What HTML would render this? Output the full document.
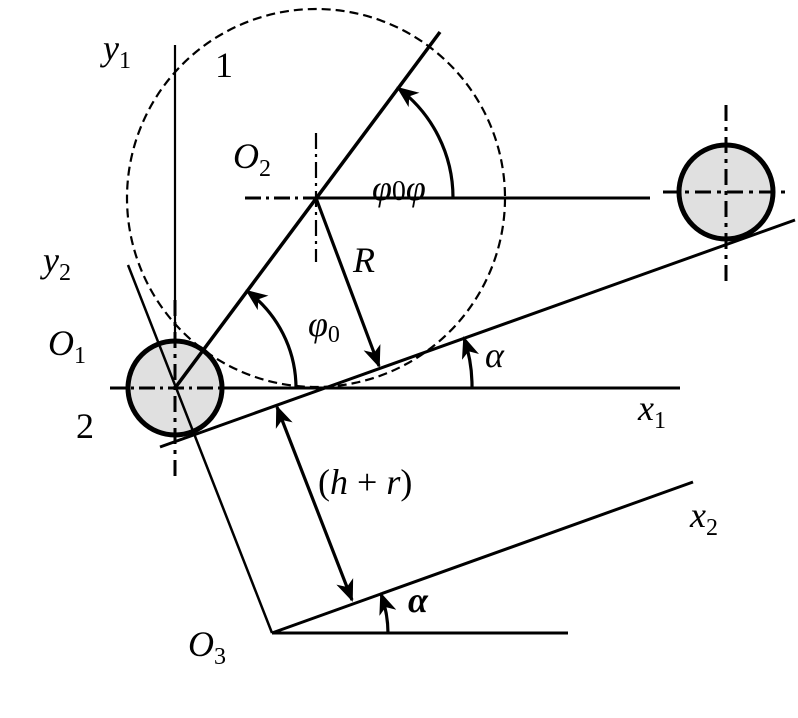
<!DOCTYPE html>
<html><head><meta charset="utf-8"><style>html,body{margin:0;padding:0;background:#fff}svg{display:block}text{font-family:"Liberation Serif",serif;font-size:36px}.i{font-style:italic}.n{font-style:normal}</style></head><body>
<svg width="798" height="718" viewBox="0 0 798 718" xmlns="http://www.w3.org/2000/svg">
<defs>
<marker id="b" markerWidth="22" markerHeight="22" refX="20" refY="11" orient="auto" markerUnits="userSpaceOnUse" viewBox="0 0 22 22"><path d="M0,2 L22,11 L0,20 L6,11Z" fill="#000"/></marker>
<marker id="bs" markerWidth="22" markerHeight="22" refX="2" refY="11" orient="auto" markerUnits="userSpaceOnUse" viewBox="0 0 22 22"><path d="M22,2 L0,11 L22,20 L16,11Z" fill="#000"/></marker></defs>
<g stroke="#000" fill="none">
<circle cx="316" cy="198" r="189" stroke-width="2.2" stroke-dasharray="9,5"/>
<line x1="175" y1="45" x2="175" y2="385" stroke-width="2.2"/>
<line x1="316" y1="198" x2="650" y2="198" stroke-width="3"/>
<line x1="245" y1="198" x2="316" y2="198" stroke-width="3" stroke-dasharray="16,5,3,5"/>
<line x1="316" y1="133" x2="316" y2="262" stroke-width="2.2" stroke-dasharray="16,5,3,5"/>
<line x1="220" y1="388" x2="680" y2="388" stroke-width="3"/>
<line x1="160" y1="447" x2="795" y2="220" stroke-width="3"/>
<line x1="272" y1="633" x2="693" y2="482" stroke-width="3"/>
<line x1="272" y1="633" x2="568" y2="633" stroke-width="3"/>
<circle cx="175" cy="388" r="47" fill="#e0e0e0" stroke-width="5"/>
<line x1="175" y1="300" x2="175" y2="482" stroke-width="3" stroke-dasharray="16,6,4,6"/>
<line x1="110" y1="388" x2="230" y2="388" stroke-width="3" stroke-dasharray="16,5,3,5"/>
<line x1="128" y1="265" x2="272" y2="633" stroke-width="2.5"/>
<line x1="175" y1="388" x2="440" y2="32" stroke-width="3.5"/>
<circle cx="726" cy="192" r="47" fill="#e0e0e0" stroke-width="5"/>
<line x1="726" y1="105" x2="726" y2="282" stroke-width="3" stroke-dasharray="16,6,4,6"/>
<line x1="663" y1="192" x2="785" y2="192" stroke-width="3" stroke-dasharray="16,6,4,6"/>
<line x1="316" y1="198" x2="379" y2="366" stroke-width="3.2" marker-end="url(#b)"/>
<line x1="277" y1="407" x2="352" y2="600" stroke-width="3.2" marker-start="url(#bs)" marker-end="url(#b)"/>
<path d="M296,388 A121,121 0 0 0 247,291" stroke-width="3.2" marker-end="url(#b)"/>
<path d="M453,198 A137,137 0 0 0 398,88" stroke-width="3.2" marker-end="url(#b)"/>
<path d="M472,388 A148,148 0 0 0 464,338" stroke-width="3.2" marker-end="url(#b)"/>
<path d="M388,633 A116,116 0 0 0 381,594" stroke-width="3.2" marker-end="url(#b)"/>
</g>
<g fill="#000">
<text x="103" y="60" class="i">y<tspan class="n" font-size="24" dy="8">1</tspan></text>
<text x="215" y="77" class="n">1</text>
<text x="233" y="168" class="i">O<tspan class="n" font-size="24" dy="8">2</tspan></text>
<text x="372" y="200" class="i">φ<tspan class="n" font-size="28">0</tspan>φ</text>
<text x="353" y="272" class="i">R</text>
<text x="43" y="272" class="i">y<tspan class="n" font-size="24" dy="8">2</tspan></text>
<text x="48" y="355" class="i">O<tspan class="n" font-size="24" dy="8">1</tspan></text>
<text x="308" y="336" class="i">φ<tspan class="n" font-size="24" dy="6">0</tspan></text>
<text x="485" y="367" class="i">α</text>
<text x="76" y="438" class="n">2</text>
<text x="638" y="420" class="i">x<tspan class="n" font-size="24" dy="8">1</tspan></text>
<text x="318" y="494" class="n">(<tspan class="i">h</tspan> + <tspan class="i">r</tspan>)</text>
<text x="690" y="527" class="i">x<tspan class="n" font-size="24" dy="8">2</tspan></text>
<text x="408" y="612" class="i" font-weight="bold">α</text>
<text x="188" y="656" class="i">O<tspan class="n" font-size="24" dy="8">3</tspan></text>
</g>
</svg>
</body></html>
